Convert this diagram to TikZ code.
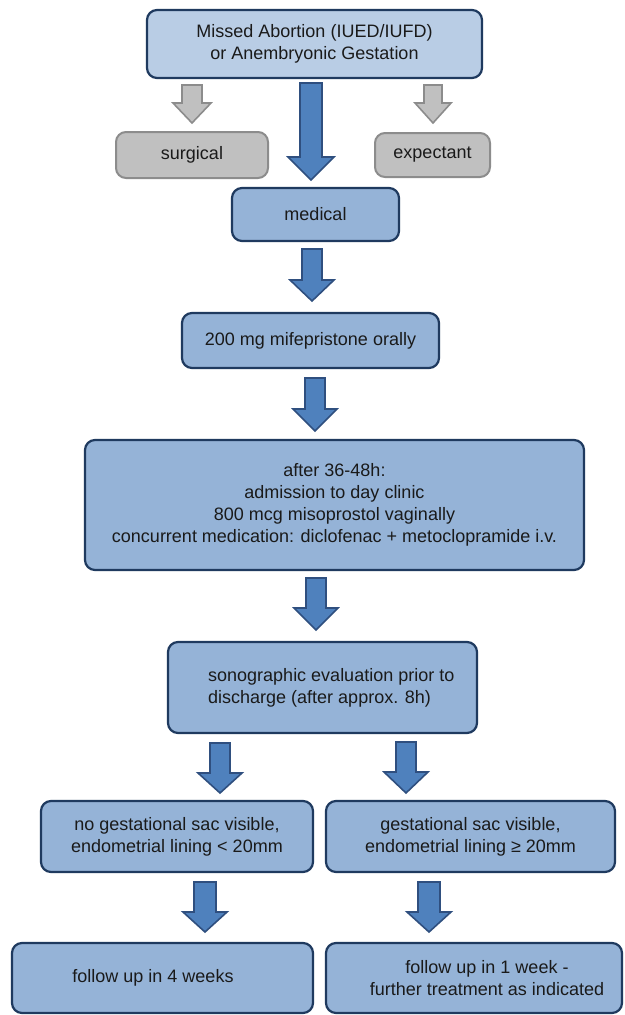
\documentclass[tikz,border=0pt]{standalone}
\usepackage{fontspec}
\setmainfont{Liberation Sans}
\definecolor{topfill}{HTML}{B9CDE5}
\definecolor{boxfill}{HTML}{95B3D7}
\definecolor{boxline}{HTML}{1F3A5F}
\definecolor{arrfill}{HTML}{4F81BD}
\definecolor{arrline}{HTML}{2F4F7F}
\definecolor{grayfill}{HTML}{C0C0C0}
\definecolor{grayline}{HTML}{8C8C8C}
\definecolor{txt}{HTML}{1A1A1A}
\newcommand{\blockarr}[7]{%
  \draw[#1] (#2-#6,#3) -- (#2+#6,#3) -- (#2+#6,#4) -- (#2+#7,#4) -- (#2,#5) -- (#2-#7,#4) -- (#2-#6,#4) -- cycle;}
\begin{document}
\begin{tikzpicture}[x=1pt,y=-1pt,
  base/.style={draw=boxline, line width=2.2pt, rounded corners=10pt, fill=boxfill,
    text=txt, align=center, inner sep=0pt,
    font=\fontsize{18}{22}\selectfont},
  topbox/.style={base, fill=topfill},
  graybox/.style={base, draw=grayline, fill=grayfill, line width=2pt},
  plaintxt/.style={text=txt, inner sep=0pt, font=\fontsize{18}{22}\selectfont},
  bluearr/.style={draw=arrline, fill=arrfill, line width=1.6pt, line join=miter},
  grayarr/.style={draw=grayline, fill=grayfill, line width=1.6pt, line join=miter}]
\useasboundingbox (0,0) rectangle (624,1015);
\fill[white] (0,0) rectangle (624,1015);

\node[topbox, minimum width=335pt, minimum height=68pt] (top) at (314.5,44)
  {Missed Abortion (IUED/IUFD)\\or Anembryonic Gestation};
\node[graybox, minimum width=152pt, minimum height=46pt] (surg) at (192,155) {surgical};
\node[graybox, minimum width=115pt, minimum height=44pt] (exp) at (432.5,155) {expectant};
\node[base, minimum width=167pt, minimum height=53pt] (med) at (315.5,214.5) {medical};
\node[base, minimum width=257pt, minimum height=55pt] (mife) at (310.5,340.5) {200 mg mifepristone orally};
\node[base, minimum width=499pt, minimum height=130pt] (after) at (334.5,505)
  {after 36-48h:\\admission to day clinic\\800 mcg misoprostol vaginally\\concurrent medication: diclofenac + metoclopramide i.v.};
\node[base, minimum width=309pt, minimum height=91pt] (sono) at (322.5,687.5) {};
\node[plaintxt, align=left, anchor=west] (sonotxt) at (208,687.5)
  {sonographic evaluation prior to\\discharge (after approx. 8h)};
\node[base, minimum width=272pt, minimum height=71pt] (nogest) at (177,836.5)
  {no gestational sac visible,\\endometrial lining < 20mm};
\node[base, minimum width=289pt, minimum height=71pt] (gest) at (470.5,836.5)
  {gestational sac visible,\\endometrial lining ≥ 20mm};
\node[base, minimum width=301pt, minimum height=70pt] (fu4) at (162.5,978) {};
\node[plaintxt] (fu4txt) at (153,978) {follow up in 4 weeks};
\node[base, minimum width=296pt, minimum height=70pt] (fu1) at (474,978) {};
\node[plaintxt, align=center] (fu1txt) at (487,978)
  {follow up in 1 week -\\further treatment as indicated};

% block arrows
\blockarr{grayarr}{192}{85}{103}{123}{10}{19}
\blockarr{grayarr}{433}{85}{103}{123}{9}{18}
\blockarr{bluearr}{311}{83}{157}{180}{11}{23}
\blockarr{bluearr}{312}{249}{280}{301}{10}{22}
\blockarr{bluearr}{315}{378}{409}{431}{10}{22}
\blockarr{bluearr}{316}{578}{608}{630}{10}{22}
\blockarr{bluearr}{220}{743}{773}{793}{10}{22}
\blockarr{bluearr}{406}{742}{772}{793}{10}{22}
\blockarr{bluearr}{205}{882}{912}{932}{11}{22}
\blockarr{bluearr}{429}{882}{912}{932}{11}{22}
\end{tikzpicture}
\end{document}
